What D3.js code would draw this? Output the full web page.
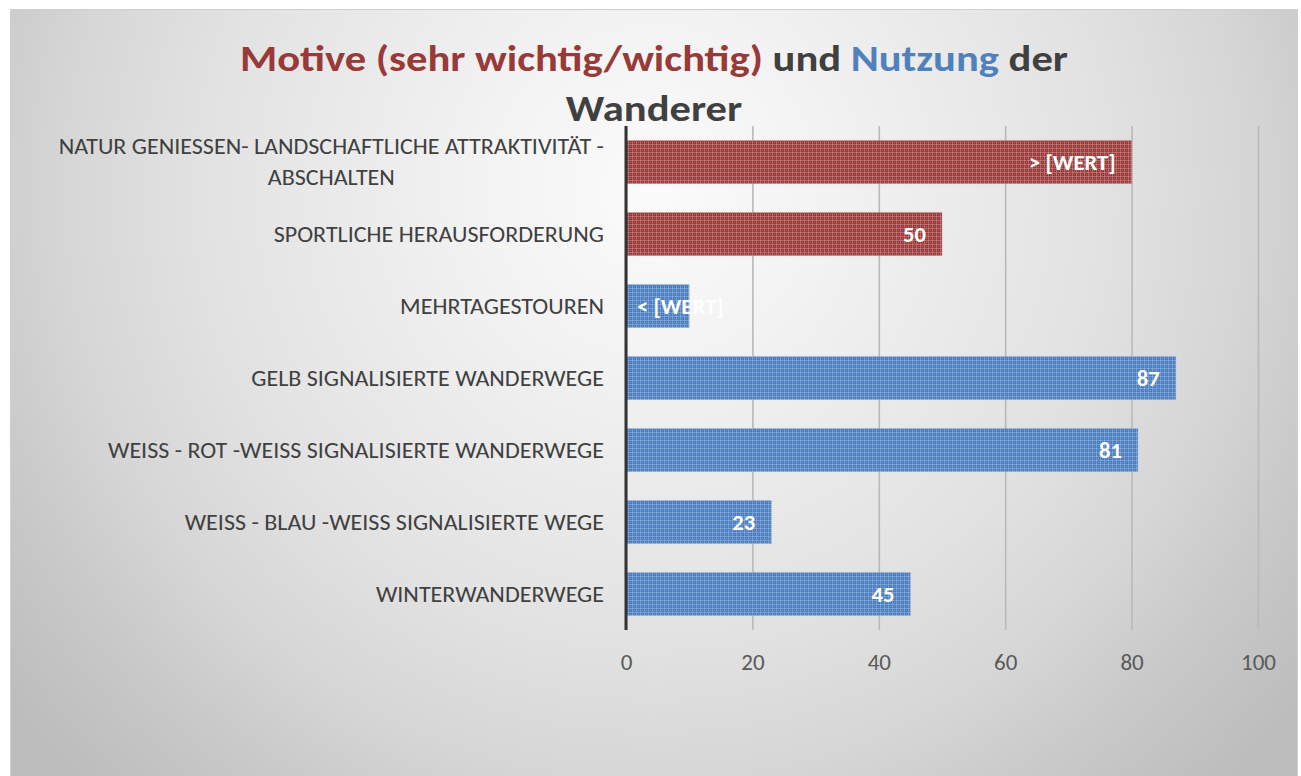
<!DOCTYPE html>
<html><head><meta charset="utf-8">
<script src="https://cdn.jsdelivr.net/npm/d3@7"></script>
<style>body{margin:0;background:#fff;} svg{display:block;}</style>
</head><body><svg id="chart" width="1301" height="776"></svg>
<script>
// ---- data ----
const categories = [
  "NATUR GENIESSEN- LANDSCHAFTLICHE ATTRAKTIVITÄT - ABSCHALTEN",
  "SPORTLICHE HERAUSFORDERUNG",
  "MEHRTAGESTOUREN",
  "GELB SIGNALISIERTE WANDERWEGE",
  "WEISS - ROT -WEISS SIGNALISIERTE WANDERWEGE",
  "WEISS - BLAU -WEISS SIGNALISIERTE WEGE",
  "WINTERWANDERWEGE"
];
const values = [80, 50, 10, 87, 81, 23, 45];
const groups = ["motive", "motive", "nutzung", "nutzung", "nutzung", "nutzung", "nutzung"];
const valueLabels = ["> [WERT]", "50", "< [WERT]", "87", "81", "23", "45"];
const xTicks = [0, 20, 40, 60, 80, 100];
const titleLine1 = [
  {text: "Motive (sehr wichtig/wichtig)", group: "motive"},
  {text: " und ", group: "plain"},
  {text: "Nutzung", group: "nutzung"},
  {text: " der", group: "plain"}
];
const titleLine2 = "Wanderer";

// ---- styles ----
const FONT = "Carlito, Lato, 'Open Sans', sans-serif";
const titleColors = {motive: "#973a38", nutzung: "#4f81bd", plain: "#404040"};

const svg = d3.select("#chart");
const defs = svg.append("defs");

// background radial gradient
const rg = defs.append("radialGradient").attr("id", "bg")
  .attr("gradientUnits", "userSpaceOnUse")
  .attr("cx", 654).attr("cy", 190).attr("r", 820);
[[0, "#fbfbfb"], [0.2, "#f3f3f3"], [0.55, "#e2e2e2"], [0.72, "#d6d6d6"], [0.85, "#c9c9c9"], [1, "#bdbdbd"]]
  .forEach(([o, c]) => rg.append("stop").attr("offset", o).attr("stop-color", c));

// textured bar patterns
function makePattern(id, base, light) {
  const p = defs.append("pattern").attr("id", id).attr("patternUnits", "userSpaceOnUse")
    .attr("width", 4).attr("height", 4);
  p.append("rect").attr("width", 4).attr("height", 4).attr("fill", base);
  p.append("rect").attr("width", 4).attr("height", 1).attr("fill", light).attr("opacity", 0.45);
  p.append("rect").attr("width", 1).attr("height", 4).attr("fill", light).attr("opacity", 0.45);
  p.append("rect").attr("x", 2).attr("y", 2).attr("width", 1).attr("height", 1).attr("fill", light).attr("opacity", 0.5);
}
makePattern("pat-motive", "#983838", "#d9a3a3");
makePattern("pat-nutzung", "#4a7cbd", "#a9c3e6");

// chart area background
svg.append("rect").attr("x", 10.5).attr("y", 9.5).attr("width", 1287).attr("height", 780)
  .attr("fill", "url(#bg)").attr("stroke", "#d0d0d0").attr("stroke-width", 1);

// ---- scales ----
const x = d3.scaleLinear().domain([0, 100]).range([626, 1258]);
const y = d3.scaleBand().domain(categories).range([126, 630]).paddingInner(0.4).paddingOuter(0.2);

// gridlines via axis
const grid = svg.append("g").attr("transform", `translate(0,${y.range()[1]})`)
  .call(d3.axisBottom(x).tickValues(xTicks).tickSize(-(y.range()[1] - y.range()[0])).tickFormat(""));
grid.select(".domain").remove();
grid.selectAll(".tick line").attr("stroke", "#b9b9b9").attr("stroke-width", 1.6);

// tick labels
const tickAxis = svg.append("g").attr("transform", `translate(0,${y.range()[1]})`)
  .call(d3.axisBottom(x).tickValues(xTicks).tickSize(0).tickPadding(24));
tickAxis.select(".domain").remove();
tickAxis.selectAll("text").attr("font-family", FONT).attr("font-size", 23).attr("fill", "#595959");

// fit helper: compress glyphs to calibri-like width
function fitFactor(sample, size, weight, target) {
  const t = svg.append("text").attr("font-family", FONT).attr("font-size", size).attr("font-weight", weight).text(sample);
  const w = t.node().getComputedTextLength();
  t.remove();
  return target / w;
}
function applyFit(sel, f) {
  sel.each(function () {
    const w = this.getComputedTextLength();
    d3.select(this).attr("textLength", w * f).attr("lengthAdjust", "spacingAndGlyphs");
  });
}
applyFit(tickAxis.selectAll("text"), fitFactor("100", 23, 400, 35));

// bars
svg.append("g").selectAll("rect").data(values).join("rect")
  .attr("x", x(0)).attr("y", (d, i) => y(categories[i]))
  .attr("width", d => x(d) - x(0)).attr("height", y.bandwidth())
  .attr("fill", (d, i) => `url(#pat-${groups[i]})`)
  .attr("stroke", (d, i) => groups[i] === "motive" ? "#c79090" : "#9ab7de")
  .attr("stroke-width", 0.8).attr("stroke-dasharray", "1,1");

// zero axis line
svg.append("line").attr("x1", x(0)).attr("x2", x(0)).attr("y1", y.range()[0]).attr("y2", y.range()[1])
  .attr("stroke", "#333").attr("stroke-width", 3);

// category labels
const CAT_SIZE = 22;
const catF = fitFactor("WEISS - ROT -WEISS SIGNALISIERTE WANDERWEGE", CAT_SIZE, 400, 496);
const maxLabelW = 560;
const catG = svg.append("g");
function measure(s) {
  const t = svg.append("text").attr("font-family", FONT).attr("font-size", CAT_SIZE).text(s);
  const w = t.node().getComputedTextLength() * catF; t.remove(); return w;
}
categories.forEach((c, i) => {
  const words = c.split(" ");
  const lines = [];
  let cur = "";
  words.forEach(wd => {
    const test = cur ? cur + " " + wd : wd;
    if (measure(test) > maxLabelW && cur) { lines.push(cur); cur = wd; }
    else cur = test;
  });
  lines.push(cur);
  const cy = y(c) + y.bandwidth() / 2;
  const lh = 31;
  const widths = lines.map(measure);
  const blockW = d3.max(widths);
  const right = 604;
  lines.forEach((l, k) => {
    const ty = cy + (k - (lines.length - 1) / 2) * lh + 7.5;
    catG.append("text").attr("font-family", FONT).attr("font-size", CAT_SIZE).attr("fill", "#404040")
      .attr("text-anchor", lines.length > 1 ? "middle" : "end")
      .attr("x", lines.length > 1 ? right - blockW / 2 : right).attr("y", ty).text(l)
      .attr("textLength", widths[k]).attr("lengthAdjust", "spacingAndGlyphs");
  });
});

// data labels
const LBL_SIZE = 22;
const lblF = fitFactor("87", LBL_SIZE, 700, 23);
const lblG = svg.append("g");
values.forEach((v, i) => {
  const t = lblG.append("text").attr("font-family", FONT).attr("font-size", LBL_SIZE).attr("font-weight", 700)
    .attr("fill", "#fff").text(valueLabels[i]);
  const w = t.node().getComputedTextLength() * lblF;
  t.attr("textLength", w).attr("lengthAdjust", "spacingAndGlyphs");
  const barW = x(v) - x(0);
  const cy = y(categories[i]) + y.bandwidth() / 2 + 8;
  if (w + 30 < barW) {
    t.attr("text-anchor", "end").attr("x", x(v) - 16).attr("y", cy);
  } else {
    t.attr("text-anchor", "start").attr("x", x(0) + 11).attr("y", cy);
  }
});

// title
const TITLE_SIZE = 36;
const t1 = svg.append("text").attr("font-family", FONT).attr("font-size", TITLE_SIZE).attr("font-weight", 700)
  .attr("text-anchor", "middle").attr("x", 654).attr("y", 71);
titleLine1.forEach(p => t1.append("tspan").attr("fill", titleColors[p.group]).text(p.text));
const titleF = 828 / t1.node().getComputedTextLength();
t1.attr("textLength", 828).attr("lengthAdjust", "spacingAndGlyphs");
const t2 = svg.append("text").attr("font-family", FONT).attr("font-size", TITLE_SIZE).attr("font-weight", 700)
  .attr("text-anchor", "middle").attr("x", 654).attr("y", 121).attr("fill", titleColors.plain).text(titleLine2);
t2.attr("textLength", t2.node().getComputedTextLength() * titleF).attr("lengthAdjust", "spacingAndGlyphs");
</script>
</body></html>
